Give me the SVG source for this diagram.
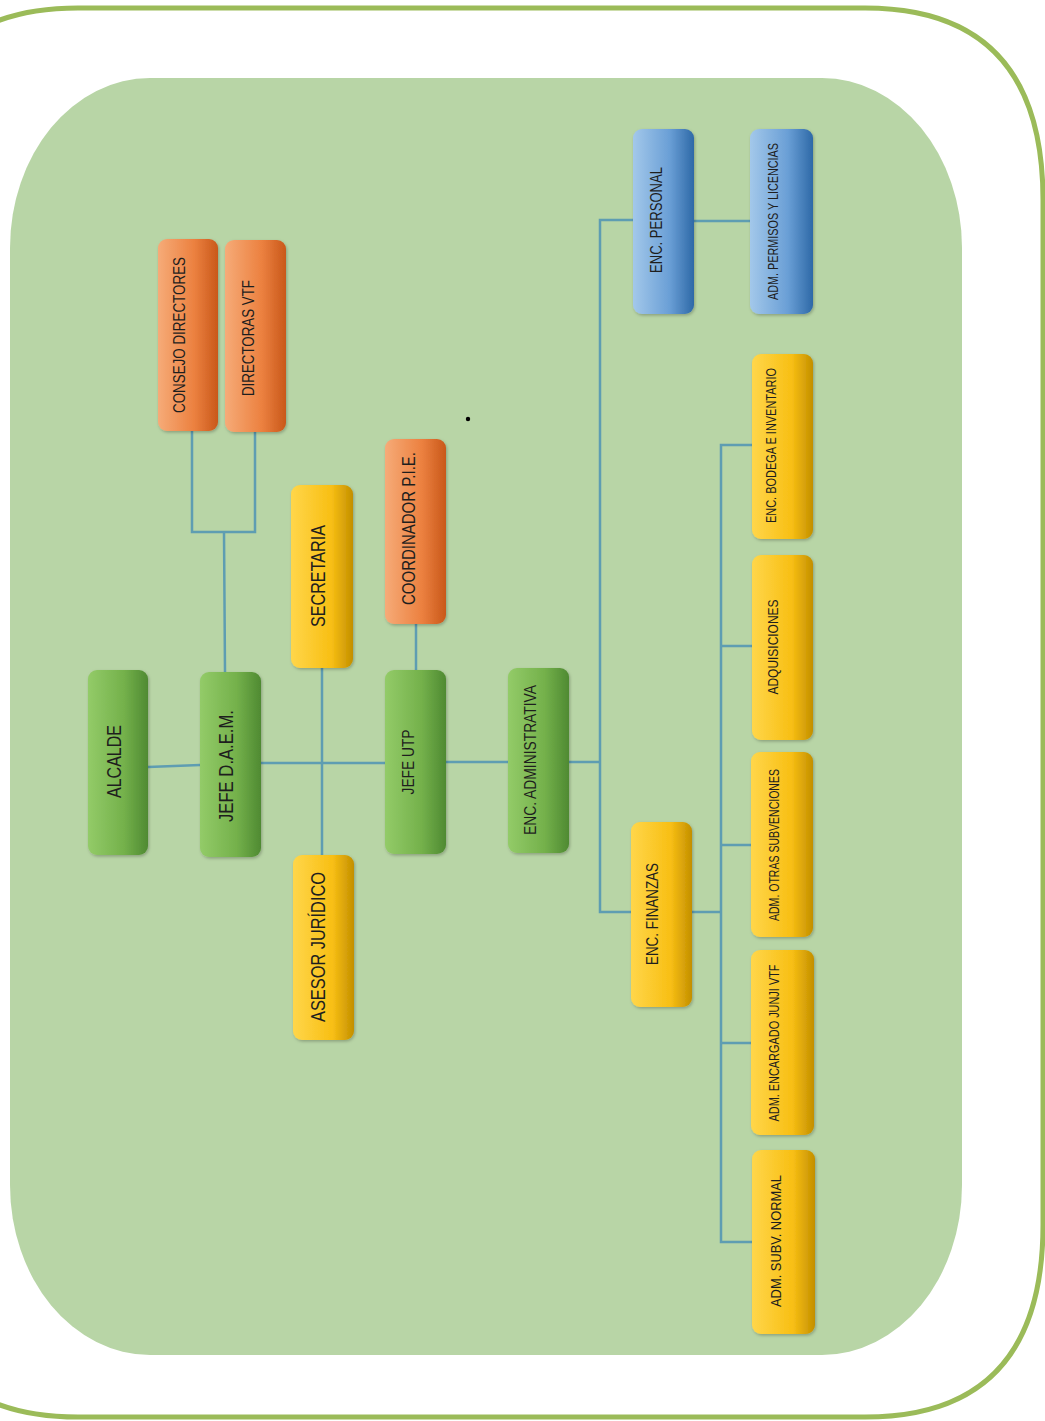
<svg xmlns="http://www.w3.org/2000/svg" width="1045" height="1421" viewBox="0 0 1045 1421">
  <defs>
    <linearGradient id="gGreen" x1="0" y1="0" x2="1" y2="0">
      <stop offset="0" stop-color="#93cb68"/>
      <stop offset="0.6" stop-color="#74b14b"/>
      <stop offset="1" stop-color="#4f8a32"/>
    </linearGradient>
    <linearGradient id="gOrange" x1="0" y1="0" x2="1" y2="0">
      <stop offset="0" stop-color="#f6ab78"/>
      <stop offset="0.6" stop-color="#ec8140"/>
      <stop offset="1" stop-color="#c9581a"/>
    </linearGradient>
    <linearGradient id="gYellow" x1="0" y1="0" x2="1" y2="0">
      <stop offset="0" stop-color="#ffd64a"/>
      <stop offset="0.65" stop-color="#f8bf14"/>
      <stop offset="1" stop-color="#c38f00"/>
    </linearGradient>
    <linearGradient id="gBlue" x1="0" y1="0" x2="1" y2="0">
      <stop offset="0" stop-color="#a3c8ea"/>
      <stop offset="0.6" stop-color="#6a9fd6"/>
      <stop offset="1" stop-color="#2e69a7"/>
    </linearGradient>
    <filter id="sh" x="-20%" y="-10%" width="140%" height="120%">
      <feDropShadow dx="1" dy="1.5" stdDeviation="1.5" flood-color="#000" flood-opacity="0.25"/>
    </filter>
  </defs>
  <style>
    .box { filter: url(#sh); }
    .green { fill: url(#gGreen); }
    .orange { fill: url(#gOrange); }
    .yellow { fill: url(#gYellow); }
    .blue { fill: url(#gBlue); }
    .lbl { font-family: "Liberation Sans", Arial, sans-serif; fill: #1e1e1e; text-anchor: middle; }
    .conn { fill: none; stroke: #5e9db2; stroke-width: 2.5; }
  </style>

  <rect x="0" y="0" width="1045" height="1421" fill="#ffffff"/>
  <path d="M -100,200 Q -100,8 78,8 L 865,8 Q 1043,8 1043,200 L 1043,1225 Q 1043,1417 865,1417 L 78,1417 Q -100,1417 -100,1225 Z" fill="none" stroke="#9bbb59" stroke-width="5"/>
  <rect x="10" y="78" width="952" height="1277" rx="140" ry="170" fill="#b8d5a6"/>
  <circle cx="468" cy="419" r="2.2" fill="#000"/>

  <g id="connectors">
    <path class="conn" d="M148,767 L200,765"/>
    <path class="conn" d="M225,672 L224,532 M192,431 L192,532 L255,532 L255,432"/>
    <path class="conn" d="M261,763 L385,763"/>
    <path class="conn" d="M322,668 L322,855"/>
    <path class="conn" d="M416,624 L416,670"/>
    <path class="conn" d="M446,762 L508,762"/>
    <path class="conn" d="M569,762 L600,762"/>
    <path class="conn" d="M633,220 L600,220 L600,912 L631,912"/>
    <path class="conn" d="M694,221 L750,221"/>
    <path class="conn" d="M692,912 L721,912"/>
    <path class="conn" d="M752,445 L721,445 L721,1242 L752,1242"/>
    <path class="conn" d="M721,646 L752,646 M721,845 L751,845 M721,1043 L751,1043"/>
  </g>

  <g id="alcalde">
    <rect class="box green" x="88" y="670" width="60" height="185" rx="9"/>
    <text class="lbl" transform="translate(121,761.5) rotate(-90)" font-size="20" textLength="73" lengthAdjust="spacingAndGlyphs">ALCALDE</text>
  </g>
  <g id="jefe-daem">
    <rect class="box green" x="200" y="672" width="61" height="185" rx="9"/>
    <text class="lbl" transform="translate(233,766) rotate(-90)" font-size="20" textLength="112" lengthAdjust="spacingAndGlyphs">JEFE D.A.E.M.</text>
  </g>
  <g id="consejo-directores">
    <rect class="box orange" x="158" y="239" width="60" height="192" rx="9"/>
    <text class="lbl" transform="translate(185,335) rotate(-90)" font-size="17" textLength="156" lengthAdjust="spacingAndGlyphs">CONSEJO DIRECTORES</text>
  </g>
  <g id="directoras-vtf">
    <rect class="box orange" x="225" y="240" width="61" height="192" rx="9"/>
    <text class="lbl" transform="translate(254,338) rotate(-90)" font-size="17" textLength="116" lengthAdjust="spacingAndGlyphs">DIRECTORAS VTF</text>
  </g>
  <g id="secretaria">
    <rect class="box yellow" x="291" y="485" width="62" height="183" rx="9"/>
    <text class="lbl" transform="translate(325,576) rotate(-90)" font-size="20" textLength="102" lengthAdjust="spacingAndGlyphs">SECRETARIA</text>
  </g>
  <g id="asesor-juridico">
    <rect class="box yellow" x="293" y="855" width="61" height="185" rx="9"/>
    <text class="lbl" transform="translate(325,947) rotate(-90)" font-size="20" textLength="150" lengthAdjust="spacingAndGlyphs">ASESOR JURÍDICO</text>
  </g>
  <g id="coordinador-pie">
    <rect class="box orange" x="385" y="439" width="61" height="185" rx="9"/>
    <text class="lbl" transform="translate(415,528.5) rotate(-90)" font-size="18" textLength="153" lengthAdjust="spacingAndGlyphs">COORDINADOR P.I.E.</text>
  </g>
  <g id="jefe-utp">
    <rect class="box green" x="385" y="670" width="61" height="184" rx="9"/>
    <text class="lbl" transform="translate(414,762) rotate(-90)" font-size="17" textLength="65" lengthAdjust="spacingAndGlyphs">JEFE UTP</text>
  </g>
  <g id="enc-administrativa">
    <rect class="box green" x="508" y="668" width="61" height="185" rx="9"/>
    <text class="lbl" transform="translate(536,760) rotate(-90)" font-size="16" textLength="150" lengthAdjust="spacingAndGlyphs">ENC. ADMINISTRATIVA</text>
  </g>
  <g id="enc-personal">
    <rect class="box blue" x="633" y="129" width="61" height="185" rx="9"/>
    <text class="lbl" transform="translate(662,220) rotate(-90)" font-size="16" textLength="106" lengthAdjust="spacingAndGlyphs">ENC. PERSONAL</text>
  </g>
  <g id="adm-permisos-licencias">
    <rect class="box blue" x="750" y="129" width="63" height="185" rx="9"/>
    <text class="lbl" transform="translate(778,221.5) rotate(-90)" font-size="14" textLength="157" lengthAdjust="spacingAndGlyphs">ADM. PERMISOS Y LICENCIAS</text>
  </g>
  <g id="enc-finanzas">
    <rect class="box yellow" x="631" y="822" width="61" height="185" rx="9"/>
    <text class="lbl" transform="translate(658,914) rotate(-90)" font-size="16" textLength="102" lengthAdjust="spacingAndGlyphs">ENC. FINANZAS</text>
  </g>
  <g id="enc-bodega-inventario">
    <rect class="box yellow" x="752" y="354" width="61" height="185" rx="9"/>
    <text class="lbl" transform="translate(776,445.5) rotate(-90)" font-size="14" textLength="155" lengthAdjust="spacingAndGlyphs">ENC. BODEGA E INVENTARIO</text>
  </g>
  <g id="adquisiciones">
    <rect class="box yellow" x="752" y="555" width="61" height="185" rx="9"/>
    <text class="lbl" transform="translate(778,647) rotate(-90)" font-size="14" textLength="95" lengthAdjust="spacingAndGlyphs">ADQUISICIONES</text>
  </g>
  <g id="adm-otras-subvenciones">
    <rect class="box yellow" x="751" y="752" width="62" height="185" rx="9"/>
    <text class="lbl" transform="translate(779,845) rotate(-90)" font-size="14" textLength="152" lengthAdjust="spacingAndGlyphs">ADM. OTRAS SUBVENCIONES</text>
  </g>
  <g id="adm-encargado-junji-vtf">
    <rect class="box yellow" x="751" y="950" width="63" height="185" rx="9"/>
    <text class="lbl" transform="translate(779,1043) rotate(-90)" font-size="14" textLength="157" lengthAdjust="spacingAndGlyphs">ADM. ENCARGADO JUNJI VTF</text>
  </g>
  <g id="adm-subv-normal">
    <rect class="box yellow" x="752" y="1150" width="63" height="184" rx="9"/>
    <text class="lbl" transform="translate(781,1241) rotate(-90)" font-size="14" textLength="132" lengthAdjust="spacingAndGlyphs">ADM. SUBV. NORMAL</text>
  </g>
</svg>
